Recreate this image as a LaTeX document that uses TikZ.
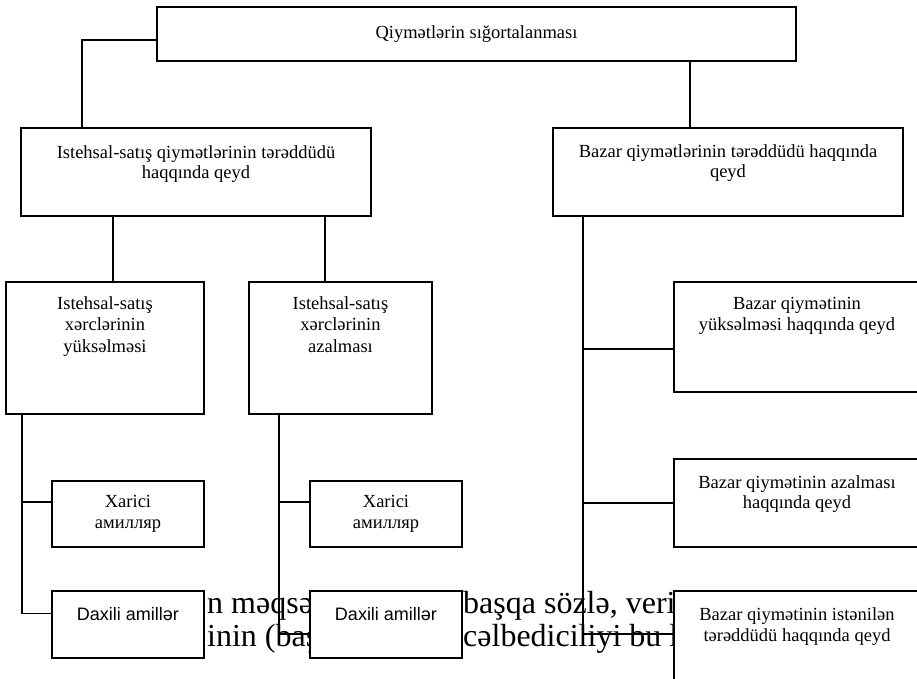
\documentclass[tikz,border=0pt]{standalone}
\usepackage{fontspec}
\setmainfont{Liberation Serif}
\newfontfamily\arialfont{Liberation Sans}
\begin{document}
\begin{tikzpicture}[x=1pt,y=-1pt,
  box/.style={draw, fill=white, line width=1.4pt, inner sep=0pt, outer sep=0pt, anchor=north west},
  lbl/.style={align=center, inner sep=0pt, anchor=north, font=\fontsize{18.5}{21.5}\selectfont},
  lbltight/.style={lbl, font=\fontsize{18.5}{20}\selectfont},
  sanslbl/.style={inner sep=0pt, anchor=north, font=\arialfont\fontsize{18}{21}\selectfont},
  wire/.style={line width=1.4pt},
  bodytext/.style={inner sep=0pt, anchor=base west, font=\fontsize{32}{34}\selectfont}]
\useasboundingbox (0,0) rectangle (917,678);
\clip (0,0) rectangle (917,678);

% running text of the page, lying behind the chart
\node[bodytext] (t1a) at (207,613) {n məqsədi};
\node[bodytext] (t1b) at (463,613) {başqa sözlə, verilən};
\node[bodytext] (t2a) at (207,646) {inin (başqa};
\node[bodytext] (t2b) at (463,646) {cəlbediciliyi bu la};

% boxes
\node[box, minimum width=639, minimum height=54] (top) at (157,7) {};
\node[box, minimum width=350, minimum height=88] (A) at (21,128) {};
\node[box, minimum width=350, minimum height=88] (B) at (553,128) {};
\node[box, minimum width=198, minimum height=132] (A1) at (6,282) {};
\node[box, minimum width=183, minimum height=132] (A2) at (249,282) {};
\node[box, minimum width=152, minimum height=66] (X1) at (52,481) {};
\node[box, minimum width=152, minimum height=67] (D1) at (52,591) {};
\node[box, minimum width=152, minimum height=66] (X2) at (310,481) {};
\node[box, minimum width=152, minimum height=67] (D2) at (310,591) {};
\node[box, minimum width=246, minimum height=110] (B1) at (674,282) {};
\node[box, minimum width=246, minimum height=88] (B2) at (674,459) {};
\node[box, minimum width=246, minimum height=110] (B3) at (674,591) {};

% box texts
\node[lbl, anchor=center] (topt) at (top.center) {Qiymətlərin sığortalanması};
\node[lbltight] (At) at (196,145) {Istehsal-satış qiymətlərinin tərəddüdü\\haqqında qeyd};
\node[lbltight] (Bt) at (728,144) {Bazar qiymətlərinin tərəddüdü haqqında\\qeyd};
\node[lbl] (A1t) at (105,296) {Istehsal-satış\\xərclərinin\\yüksəlməsi};
\node[lbl] (A2t) at (340.5,296) {Istehsal-satış\\xərclərinin\\azalması};
\node[lbl] (X1t) at (128,495) {Xarici\\амилляр};
\node[lbl] (X2t) at (386,495) {Xarici\\амилляр};
\node[sanslbl] (D1t) at (128,607) {Daxili amillər};
\node[sanslbl] (D2t) at (386,607) {Daxili amillər};
\node[lbl] (B1t) at (797,297) {Bazar qiymətinin\\yüksəlməsi haqqında qeyd};
\node[lbltight] (B2t) at (797,475) {Bazar qiymətinin azalması\\haqqında qeyd};
\node[lbl] (B3t) at (797,607) {Bazar qiymətinin istənilən\\tərəddüdü haqqında qeyd};

% connectors
\coordinate (lt) at ([yshift=-6pt]top.west);
\coordinate (ain) at ([xshift=61pt]A.north west);
\draw[wire] (lt) -| (ain);
\coordinate (bin) at ([xshift=-38pt]B.north);
\draw[wire] (bin) -- (bin |- top.south);

\coordinate (a1in) at ([xshift=8pt]A1.north);
\draw[wire] (a1in) -- (a1in |- A.south);
\coordinate (a2in) at ([xshift=-15.5pt]A2.north);
\draw[wire] (a2in) -- (a2in |- A.south);

\coordinate (a1out) at ([xshift=16pt]A1.south west);
\coordinate (x1in) at ([yshift=12pt]X1.west);
\coordinate (d1in) at ([yshift=11pt]D1.west);
\draw[wire] (a1out) |- (d1in);
\draw[wire] (x1in) -- (a1out |- x1in);

\coordinate (a2out) at ([xshift=30pt]A2.south west);
\coordinate (x2in) at ([yshift=12pt]X2.west);
\coordinate (d2in) at ([yshift=-9.5pt]D2.west);
\draw[wire] (a2out) |- (d2in);
\draw[wire] (x2in) -- (a2out |- x2in);

\coordinate (bout) at ([xshift=30pt]B.south west);
\coordinate (b1in) at ([yshift=-12pt]B1.west);
\coordinate (b3in) at ([yshift=12pt]B3.west);
\draw[wire] (bout) |- (b3in);
\draw[wire] (b1in) -- (bout |- b1in);
\draw[wire] (B2.west) -- (bout |- B2.west);
\end{tikzpicture}
\end{document}
